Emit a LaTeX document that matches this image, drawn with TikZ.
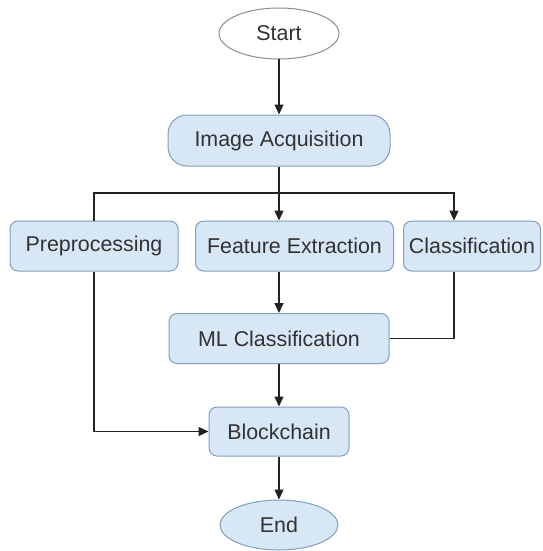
\documentclass[tikz,border=0pt]{standalone}
\usepackage{fontspec}
\setmainfont{Liberation Sans}
\usetikzlibrary{arrows.meta,shapes.geometric}

\definecolor{boxfill}{RGB}{216,231,246}
\definecolor{boxline}{RGB}{128,158,190}
\definecolor{txt}{RGB}{50,50,50}
\definecolor{wire}{RGB}{34,34,34}
\definecolor{startline}{RGB}{140,140,140}

\tikzset{
  base/.style={font=\fontsize{21.4}{24}\selectfont, text=txt, inner sep=0pt, line width=1pt},
  procbox/.style={base, draw=boxline, fill=boxfill, rounded corners=8pt},
  pill/.style={base, draw=boxline, fill=boxfill, rounded corners=19pt},
  termstart/.style={base, ellipse, draw=startline, fill=white},
  termend/.style={base, ellipse, draw=boxline, fill=boxfill},
  link/.style={draw=wire, line width=1.3pt},
  arr/.style={link, -{Triangle[length=10pt,width=9pt]}}
}

\begin{document}
\begin{tikzpicture}[x=1pt,y=-1pt]
  \useasboundingbox (0,0) rectangle (542,551);

  % terminals and process steps
  \node[termstart, minimum width=120pt, minimum height=51pt] (start) at (279,33.5) {Start};
  \node[pill, minimum width=222pt, minimum height=51pt] (acq) at (279,140.5) {Image Acquisition};
  \node[procbox, minimum width=168pt, minimum height=50pt] (pre) at (94,246) {Preprocessing};
  \node[procbox, minimum width=198pt, minimum height=50pt] (feat) at (294.5,246) {Feature Extraction};
  \node[procbox, minimum width=137pt, minimum height=50pt] (cls) at (472,246) {Classification};
  \node[procbox, minimum width=220pt, minimum height=50pt] (ml) at (279,338.5) {ML Classification};
  \node[procbox, minimum width=140pt, minimum height=49pt] (blk) at (279,431.5) {Blockchain};
  \node[termend, minimum width=118pt, minimum height=50pt] (end) at (279,525) {End};

  % branching point below acquisition
  \coordinate (split) at (acq.south |- 0,193);
  \coordinate (clsin) at ([xshift=-18pt]cls.north);
  \coordinate (clsout) at ([xshift=-18pt]cls.south);

  % connectors
  \draw[arr] (start) -- (acq);
  \draw[arr] (acq.south) -- (acq.south |- feat.north);
  \draw[link] (split) -| (pre.north);
  \draw[arr] (split) -| (clsin);
  \draw[arr] (feat.south -| ml.north) -- (ml.north);
  \draw[link] (clsout) |- (ml.east);
  \draw[arr] (pre.south) |- (blk.west);
  \draw[arr] (ml.south) -- (blk.north);
  \draw[arr] (blk.south) -- (end.north);
\end{tikzpicture}
\end{document}
